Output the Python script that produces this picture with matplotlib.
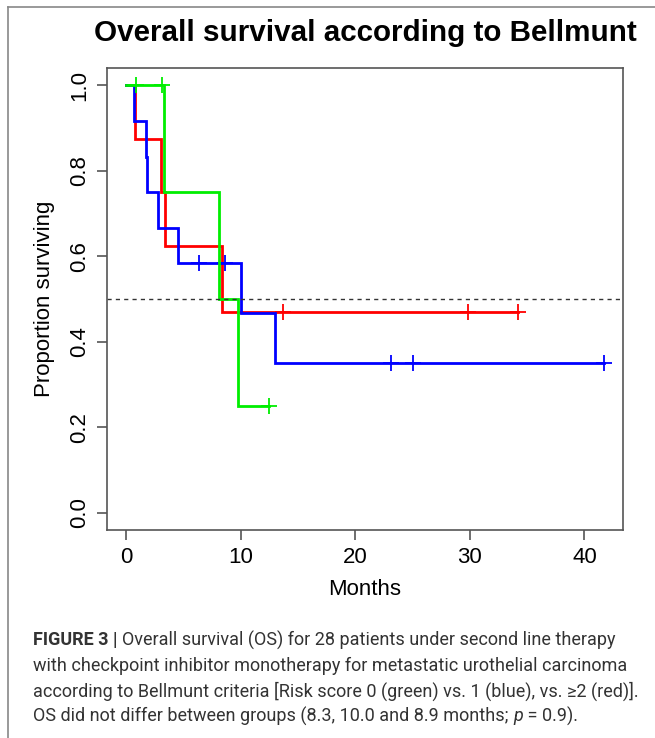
import matplotlib
matplotlib.use('Agg')
import matplotlib.pyplot as plt
from matplotlib.lines import Line2D

# --- 数据 (从图上读出来的 KM 曲线) ---
green_t = [0, 3.3, 8.1, 9.8, 12.5]
green_s = [1.0, 0.75, 0.5, 0.25, 0.25]
green_cens_t = [0.9, 3.1, 12.5]
green_cens_s = [1.0, 1.0, 0.25]

blue_t = [0, 0.73, 1.7, 1.85, 2.8, 4.5, 10.0, 13.0, 41.7]
blue_s = [1.0, 0.917, 0.833, 0.75, 0.667, 0.583, 0.467, 0.35, 0.35]
blue_cens_t = [6.4, 8.6, 23.1, 25.0, 41.7]
blue_cens_s = [0.583, 0.583, 0.35, 0.35, 0.35]

red_t = [0, 0.8, 3.0, 3.35, 8.35, 34.2]
red_s = [1.0, 0.875, 0.75, 0.625, 0.469, 0.469]
red_cens_t = [13.7, 29.8, 34.2]
red_cens_s = [0.469, 0.469, 0.469]

x_ticks = [0, 10, 20, 30, 40]
y_ticks = [0.0, 0.2, 0.4, 0.6, 0.8, 1.0]

plt.rcParams['font.family'] = ['Liberation Sans', 'DejaVu Sans']

W, H = 655, 738
fig = plt.figure(figsize=(W / 100, H / 100), dpi=100)
ax = fig.add_axes([107 / W, 1 - 530 / H, (623 - 107) / W, (530 - 68) / H])

curves = [
    (red_t, red_s, red_cens_t, red_cens_s, '#ff0000'),
    (blue_t, blue_s, blue_cens_t, blue_cens_s, '#0000ff'),
    (green_t, green_s, green_cens_t, green_cens_s, '#00ee00'),
]
for t, s, ct, cs, col in curves:
    ax.step(t, s, where='post', color=col, lw=2.0, solid_joinstyle='miter')
    ax.plot(ct, cs, ls='none', marker='+', ms=11, mew=1.3, color=col)

ax.axhline(0.5, color='#333333', lw=1.0, ls=(0, (3, 3)))

ax.set_xlim(-1.67, 43.37)
ax.set_ylim(-0.04, 1.04)
ax.set_xticks(x_ticks)
ax.set_yticks(y_ticks)
ax.set_xticklabels([str(v) for v in x_ticks], fontsize=16)
ax.set_yticklabels([f'{v:.1f}' for v in y_ticks], fontsize=16, rotation=90, va='center')
ax.tick_params(direction='out', length=7, width=1.2, color='#555555', pad=5)
for sp in ax.spines.values():
    sp.set_color('#555555')
    sp.set_linewidth(1.2)

ax.set_xlabel('Months', fontsize=16, labelpad=8)
ax.set_ylabel('Proportion surviving', fontsize=16, labelpad=10)

fig.text((107 + 623) / 2 / W, 1 - 33 / H, 'Overall survival according to Bellmunt',
         ha='center', va='center', fontsize=21.3, fontweight='bold')

# 外框 (左边和上边)
fig.add_artist(Line2D([7.5 / W, 7.5 / W], [0, 1 - 6.5 / H], color='#888888', lw=1.2))
fig.add_artist(Line2D([7.5 / W, 1], [1 - 6.5 / H, 1 - 6.5 / H], color='#888888', lw=1.2))

# --- 图注 ---
cap_font = ['Roboto', 'DejaVu Sans']
cap_color = '#333333'
cap_size = 13.0
cap_x0 = 33
line_y = [640, 666, 691, 716]
lines = [
    [('FIGURE 3 | ', 'bold', 'normal'),
     ('Overall survival (OS) for 28 patients under second line therapy', 'normal', 'normal')],
    [('with checkpoint inhibitor monotherapy for metastatic urothelial carcinoma', 'normal', 'normal')],
    [('according to Bellmunt criteria [Risk score 0 (green) vs. 1 (blue), vs. \u22652 (red)].', 'normal', 'normal')],
    [('OS did not differ between groups (8.3, 10.0 and 8.9 months; ', 'normal', 'normal'),
     ('p', 'normal', 'italic'),
     (' = 0.9).', 'normal', 'normal')],
]
renderer = fig.canvas.get_renderer()
for runs, y in zip(lines, line_y):
    x = cap_x0
    for txt, weight, style in runs:
        t = fig.text(x / W, 1 - y / H, txt, ha='left', va='center', fontsize=cap_size,
                     fontweight=weight, fontstyle=style, family=cap_font, color=cap_color)
        bb = t.get_window_extent(renderer=renderer)
        x += bb.width

fig.savefig('out.png', dpi=100)
